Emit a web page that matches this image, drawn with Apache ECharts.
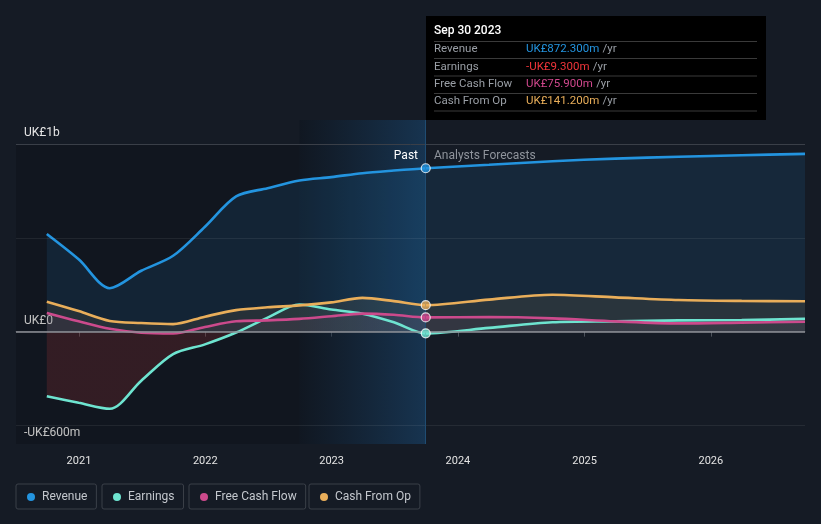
<!DOCTYPE html>
<html>
<head>
<meta charset="utf-8">
<script src="https://cdn.jsdelivr.net/npm/echarts@6/dist/echarts.min.js"></script>
<style>
html,body{margin:0;padding:0;background:#151b25;}
#chart{width:821px;height:524px;}
</style>
</head>
<body>
<div id="chart"></div>
<script>
// ---- data (UK£ millions) ----
const pastDates = ['2020-09-30','2020-12-31','2021-03-31','2021-06-30','2021-09-30','2021-12-31','2022-03-31','2022-06-30','2022-09-30','2022-12-31','2023-03-31','2023-06-30','2023-09-30'];
const forecastDates = ['2024-03-31','2024-09-30','2025-03-31','2025-09-30','2026-03-31','2026-09-30'];

const revenuePast = [521, 386, 232, 325, 405, 560, 722, 766, 807, 825, 846, 860, 872.3];
const revenueForecast = [891, 910, 924, 934, 942, 949];
const earningsPast = [-345, -380, -412, -262, -120, -68, -5, 75, 145, 118, 96, 50, -9.3];
const earningsForecast = [20, 50, 55, 60, 62, 68];
const fcfPast = [100, 55, 15, -6, -10, 25, 55, 60, 68, 82, 96, 90, 75.9];
const fcfForecast = [78, 71, 55, 44, 48, 53];
const cfoPast = [160, 110, 57, 46, 40, 80, 115, 130, 140, 156, 180, 163, 141.2];
const cfoForecast = [171, 197, 183, 169, 164, 162];

const yLabelValues = [-600, 0, 1000];
const yLabelTexts = {'-600': '-UK£600m', '0': 'UK£0', '1000': 'UK£1b'};
const gridValues = [1000, 500, -500];

const axisMin = '2020-07-03';
const axisMax = '2026-09-30';
const lastYearStart = '2022-09-30';
const reportDate = '2023-09-30';
const tooltipTitle = 'Sep 30 2023';

const names = ['Revenue', 'Earnings', 'Free Cash Flow', 'Cash From Op'];
const colors = ['#2394df', '#6ee4d0', '#cc4a8c', '#e9ae5a'];
const tipValueColors = ['#2394df', '#f0353a', '#d0488d', '#e9ae5a'];
const tipValues = ['UK£872.300m', '-UK£9.300m', 'UK£75.900m', 'UK£141.200m'];

const allDates = pastDates.concat(forecastDates);
function pairs(past, fc) {
  return allDates.map((d, i) => [d, i < past.length ? past[i] : fc[i - past.length]]);
}
const seriesVals = [
  [revenuePast, revenueForecast],
  [earningsPast, earningsForecast],
  [fcfPast, fcfForecast],
  [cfoPast, cfoForecast]
];
const areaColors = ['rgba(35,148,223,0.17)', 'rgba(110,228,208,0.05)', 'rgba(204,74,140,0.10)', 'rgba(233,174,90,0.13)'];

const FONT = 'Roboto, "Noto Sans", sans-serif';
const chart = echarts.init(document.getElementById('chart'), null, {renderer: 'canvas'});

const dataSeries = names.map((n, i) => ({
  name: n,
  type: 'line',
  z: 3,
  data: pairs(seriesVals[i][0], seriesVals[i][1]),
  smooth: 0.3,
  showSymbol: false,
  symbol: 'circle',
  lineStyle: {color: colors[i], width: 2.6},
  itemStyle: {color: colors[i]},
  areaStyle: {color: areaColors[i], origin: 0},
  emphasis: {disabled: true},
  silent: true
}));

const markerData = seriesVals.map((sv, i) => ({
  value: [reportDate, sv[0][sv[0].length - 1]],
  itemStyle: {color: colors[i]}
}));

// tooltip box graphics
const tipX = 426, tipY = 16, tipW = 340, tipH = 104;
const rowYs = [49.5, 67, 84.5, 101.5];
const sepYs = [41.5, 58.5, 76, 93.5, 111];
const graphics = [
  {type: 'rect', left: tipX, top: tipY, shape: {width: tipW, height: tipH}, style: {fill: '#000000'}, z: 100}
];
sepYs.forEach(y => graphics.push({type: 'line', shape: {x1: 434, y1: y, x2: 757, y2: y}, style: {stroke: '#3a3a3a', lineWidth: 1}, z: 101}));
graphics.push({type: 'text', x: 434, y: 31, style: {text: tooltipTitle, fill: '#ffffff', font: '500 12px ' + FONT, textVerticalAlign: 'middle'}, z: 102});
names.forEach((n, i) => {
  graphics.push({type: 'text', x: 434, y: rowYs[i], style: {text: n, fill: '#9a9fa6', font: '11.5px ' + FONT, textVerticalAlign: 'middle'}, z: 102});
  graphics.push({type: 'text', x: 526, y: rowYs[i], style: {
    text: '{v|' + tipValues[i] + '} {u|/yr}',
    textVerticalAlign: 'middle',
    rich: {v: {fill: tipValueColors[i], font: '11.5px ' + FONT}, u: {fill: '#9a9fa6', font: '11.5px ' + FONT}}
  }, z: 102});
});
graphics.push({type: 'text', x: 418, y: 156, style: {text: 'Past', fill: '#ffffff', font: '12px ' + FONT, textAlign: 'right', textVerticalAlign: 'middle'}, z: 50});
graphics.push({type: 'text', x: 434, y: 156, style: {text: 'Analysts Forecasts', fill: '#8f949c', font: '12px ' + FONT, textAlign: 'left', textVerticalAlign: 'middle'}, z: 50});

const legendLefts = [16, 102, 189, 309];
const legends = names.map((n, i) => ({
  data: [{name: n, icon: 'circle'}],
  left: legendLefts[i],
  top: 484,
  orient: 'horizontal',
  padding: [7, 9, 6, 11],
  borderColor: '#3b4049',
  borderWidth: 1,
  borderRadius: 2,
  itemWidth: 8,
  itemHeight: 8,
  selectedMode: false,
  textStyle: {color: '#c3c7cd', fontSize: 12, fontFamily: FONT, padding: [0, 0, 0, 2]}
}));

const option = {
  backgroundColor: '#151b25',
  animation: false,
  grid: {left: 16, right: 16, top: 120, bottom: 80, containLabel: false},
  legend: legends,
  xAxis: {
    type: 'time',
    min: axisMin,
    max: axisMax,
    minInterval: 365 * 24 * 3600 * 1000,
    maxInterval: 366 * 24 * 3600 * 1000,
    axisLine: {show: true, lineStyle: {color: '#3a3f48', width: 1}},
    axisTick: {show: true, length: 5, lineStyle: {color: '#4d535c'}},
    splitLine: {show: false},
    axisLabel: {color: '#e3e3e3', fontSize: 11, fontFamily: FONT, margin: 12, formatter: '{yyyy}', showMinLabel: false, showMaxLabel: false}
  },
  yAxis: {
    type: 'value',
    min: -600,
    max: 1130,
    axisLine: {show: false},
    axisTick: {show: false},
    splitLine: {show: false},
    axisLabel: {
      show: true,
      inside: true,
      margin: 8,
      customValues: yLabelValues,
      formatter: v => yLabelTexts[String(v)] || '',
      color: '#e6e6e6',
      fontSize: 12,
      fontFamily: FONT,
      verticalAlign: 'bottom',
      padding: [0, 0, 5, 0]
    }
  },
  graphic: graphics,
  series: [
    {
      name: '_bg',
      type: 'line',
      z: 1,
      data: pairs(revenuePast, revenueForecast),
      showSymbol: false,
      lineStyle: {opacity: 0},
      silent: true,
      markArea: {
        silent: true,
        data: [
          [{xAxis: axisMin, yAxis: 1000, itemStyle: {color: 'rgba(0,0,0,0.16)'}}, {xAxis: lastYearStart, yAxis: -600}],
          [{xAxis: lastYearStart, yAxis: 1130, itemStyle: {color: {type: 'linear', x: 0, y: 0, x2: 1, y2: 0, colorStops: [{offset: 0, color: 'rgba(8,16,26,0.35)'}, {offset: 1, color: 'rgba(26,92,150,0.38)'}]}}}, {xAxis: reportDate, yAxis: -600}]
        ]
      },
      markLine: {
        silent: true,
        symbol: 'none',
        label: {show: false},
        data: gridValues.map(v => ({yAxis: v, lineStyle: {color: v === 1000 ? '#3a3f48' : 'rgba(255,255,255,0.07)', width: 1, type: 'solid'}}))
          .concat([{xAxis: reportDate, lineStyle: {color: '#1f4c72', width: 1, type: 'solid'}}])
      }
    },
    {
      name: '_zero',
      type: 'line',
      z: 2,
      data: [],
      silent: true,
      markLine: {
        silent: true,
        symbol: 'none',
        label: {show: false},
        data: [{yAxis: 0, lineStyle: {color: '#8e9197', width: 1.6, type: 'solid'}}]
      }
    }
  ].concat(dataSeries).concat([
    {
      name: '_markers',
      type: 'scatter',
      z: 10,
      symbol: 'circle',
      symbolSize: 9,
      data: markerData,
      itemStyle: {borderColor: '#ffffff', borderWidth: 1.2},
      silent: true
    }
  ])
};

chart.setOption(option);

// earnings area: red below zero, faint teal above
const zeroY = chart.convertToPixel({yAxisIndex: 0}, 0);
const H = 524;
const off = zeroY / H;
chart.setOption({
  series: [{
    name: 'Earnings',
    areaStyle: {
      origin: 0,
      color: {
        type: 'linear', x: 0, y: 0, x2: 0, y2: H, global: true,
        colorStops: [
          {offset: 0, color: 'rgba(110,228,208,0.05)'},
          {offset: off, color: 'rgba(110,228,208,0.05)'},
          {offset: off, color: 'rgba(210,60,60,0.25)'},
          {offset: 1, color: 'rgba(210,60,60,0.25)'}
        ]
      }
    }
  }]
});
</script>
</body>
</html>
